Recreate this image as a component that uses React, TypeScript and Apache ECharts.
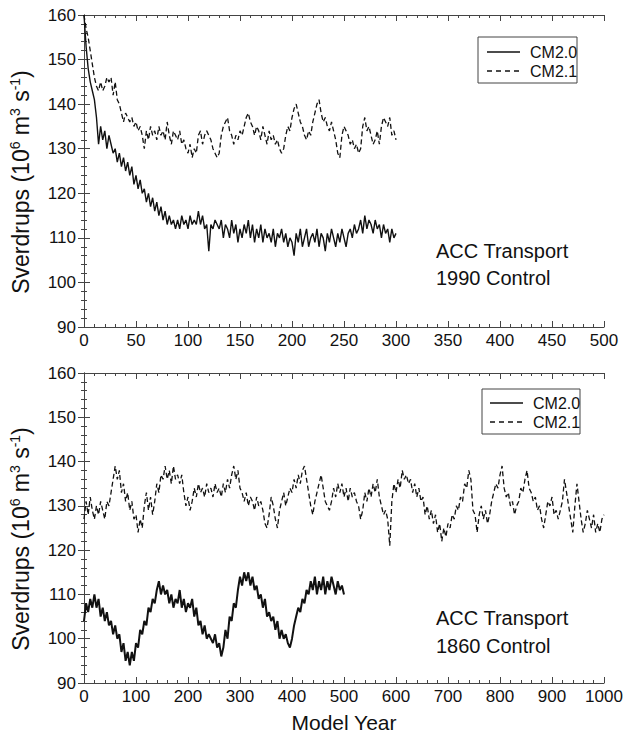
import { useEffect, useRef } from "react";
import * as echarts from "echarts";

const SERIES_NAMES = ["CM2.0", "CM2.1"];
const TOP_STEP = 2;
const BOTTOM_STEP = 4;

const TOP_CM20 = [
  160, 153, 148, 145, 143, 141, 137, 131, 135, 132,
  134, 130, 133, 131, 129, 130, 127, 129, 126, 128,
  125, 127, 124, 126, 122, 124, 121, 123, 120, 121,
  118, 120, 117, 119, 116, 118, 115, 117, 114, 116,
  113, 115, 113, 114, 112, 114, 112, 115, 113, 114,
  112, 115, 113, 114, 113, 116, 113, 115, 112, 113,
  107, 113, 112, 114, 113, 112, 114, 110, 113, 112,
  110, 114, 111, 113, 109, 112, 110, 113, 111, 114,
  110, 113, 109, 112, 110, 113, 109, 112, 110, 111,
  109, 112, 108, 111, 110, 112, 109, 111, 108, 110,
  109, 106, 111, 109, 112, 108, 110, 112, 108, 110,
  111, 109, 112, 108, 111, 110, 107, 111, 109, 112,
  110, 108, 111, 109, 112, 110, 108, 111, 112, 110,
  113, 111, 112, 114, 111, 115, 112, 114, 113, 111,
  114, 112, 113, 110, 113, 111, 112, 109, 112, 110,
  111,
];

const TOP_CM21 = [
  160, 157, 155, 152, 149, 146, 144, 143, 145, 143,
  144, 146, 145, 146, 142, 145, 141, 140, 138, 136,
  138, 137, 136, 137, 135, 136, 134, 135, 133, 130,
  134, 132, 135, 133, 134, 132, 135, 133, 134, 132,
  136, 133, 131, 134, 133, 132, 134, 131, 132, 130,
  129, 131, 128, 130, 129, 133, 134, 131, 133, 134,
  133, 132, 130, 129, 128, 129, 133, 135, 136, 137,
  134, 133, 131, 133, 132, 134, 133, 135, 137, 138,
  136, 135, 133, 135, 134, 132, 135, 133, 131, 134,
  132, 133, 131, 132, 130, 129, 130, 133, 135, 134,
  137, 139, 140, 138, 136, 135, 133, 132, 134, 133,
  136, 138, 140, 141, 138, 136, 137, 135, 134, 136,
  134, 132, 129, 128, 133, 135, 134, 133, 131, 132,
  130, 131, 129, 130, 135, 137, 134, 135, 133, 131,
  132, 134, 131, 135, 137, 136, 135, 137, 133, 134,
  132,
];

const BOT_CM20 = [
  104, 108, 106, 109, 107, 110, 107, 109, 105, 107,
  104, 106, 103, 104, 101, 103, 100, 101, 97, 99,
  95, 97, 94, 97, 95, 99, 98, 102, 101, 104,
  103, 107, 106, 109, 108, 111, 113, 110, 112, 110,
  111, 108, 110, 107, 109, 108, 111, 107, 109, 106,
  108, 107, 109, 105, 107, 103, 104, 101, 103, 100,
  101, 100, 99, 101, 98, 99, 96, 98, 102, 100,
  105, 104, 108, 107, 111, 114, 112, 115, 113, 115,
  112, 114, 111, 112, 109, 110, 107, 109, 105, 106,
  104, 105, 102, 104, 100, 102, 100, 101, 99, 98,
  100, 103, 105, 107, 106, 109, 108, 111, 110, 113,
  111, 114, 110, 113, 111, 114, 110, 113, 111, 114,
  112, 110, 113, 111, 112, 110,
];

const BOT_CM21 = [
  127, 131, 128, 132, 129, 127, 130, 128, 131, 129,
  127, 131, 130, 133, 136, 139, 136, 138, 133, 135,
  131, 133, 129, 131, 127, 128, 124, 127, 125, 130,
  133, 129, 132, 128, 131, 135, 133, 137, 136, 139,
  136, 138, 135, 139, 136, 137, 135, 137, 133, 130,
  132, 129, 131, 134, 132, 135, 133, 134, 132, 135,
  133, 134, 132, 135, 133, 134, 132, 135, 133, 136,
  134, 137, 139, 136, 138, 134, 133, 131, 133, 130,
  132, 131, 129, 132, 130, 131, 129, 126, 125, 128,
  132, 130, 127, 125, 129, 131, 133, 130, 132, 134,
  133, 136, 134, 137, 135, 138, 139, 136, 133, 130,
  128, 131, 133, 135, 137, 134, 131, 130, 129, 131,
  134, 132, 135, 133, 135, 132, 134, 131, 134, 132,
  133, 131, 130, 127, 129, 133, 131, 134, 132, 135,
  133, 136, 132, 130, 128, 129, 127, 121, 131, 135,
  133, 136, 134, 138, 136, 137, 135, 136, 133, 135,
  132, 134, 131, 132, 128, 130, 127, 129, 126, 128,
  124, 126, 122, 125, 123, 126, 125, 128, 127, 130,
  129, 132, 131, 135, 134, 138, 136, 129, 128, 124,
  128, 130, 127, 129, 126, 128, 131, 133, 135, 134,
  137, 139, 134, 132, 133, 130, 131, 128, 130, 131,
  134, 133, 136, 138, 134, 133, 131, 132, 129, 130,
  127, 125, 128, 131, 130, 132, 128, 129, 127, 129,
  131, 136, 133, 130, 127, 124, 130, 135, 131, 127,
  124, 126, 129, 127, 125, 128, 124, 126, 124, 127,
  128,
];

const Y_RANGE = [90, 160];
const Y_INTERVAL = 10;
const TOP_X_RANGE = [0, 500];
const TOP_X_INTERVAL = 50;
const BOT_X_RANGE = [0, 1000];
const BOT_X_INTERVAL = 100;
const PANEL_LABELS = [
  ["ACC Transport", "1990 Control"],
  ["ACC Transport", "1860 Control"],
];
const X_NAME = "Model Year";

const FONT = "'Liberation Sans', Arial, Helvetica, sans-serif";
const INK = "#111";
const FRAME = "#444";

const GRIDS = [
  { left: 84, top: 15, width: 520, height: 312 },
  { left: 84, top: 373, width: 520, height: 310 },
];

function toPairs(values: number[], step: number) {
  return values.map((v, i) => [i * step, v]);
}

function App() {
  const ref = useRef<HTMLDivElement>(null);

  useEffect(() => {
    if (!ref.current) return;
    const chart = echarts.init(ref.current, null, { renderer: "svg" });

    const tickCommon = {
      axisLine: { show: true, lineStyle: { color: FRAME, width: 1 } },
      axisTick: { show: true, inside: true, length: 6, lineStyle: { color: FRAME } },
      minorTick: { show: true, splitNumber: 5, length: 3, lineStyle: { color: FRAME } },
      splitLine: { show: false },
    };

    const xAxis = (grid: number, range: number[], interval: number, bottom: boolean, name?: string) => ({
      type: "value",
      gridIndex: grid,
      position: bottom ? "bottom" : "top",
      min: range[0],
      max: range[1],
      interval,
      ...tickCommon,
      axisLabel: {
        show: bottom,
        color: INK,
        fontSize: 17,
        fontFamily: FONT,
        margin: 5,
        formatter: (v: number) => String(v),
      },
      name: name,
      nameLocation: "middle",
      nameGap: 29,
      nameTextStyle: { fontSize: 21, fontFamily: FONT, color: INK },
    });

    const yName = "{a|Sverdrups (10}{s|6}{a| m}{s|3}{a| s}{s|-1}{a|)}";
    const yAxis = (grid: number, left: boolean) => ({
      type: "value",
      gridIndex: grid,
      position: left ? "left" : "right",
      min: Y_RANGE[0],
      max: Y_RANGE[1],
      interval: Y_INTERVAL,
      ...tickCommon,
      axisLabel: {
        show: left,
        color: INK,
        fontSize: 17,
        fontFamily: FONT,
        margin: 8,
        formatter: (v: number) => String(v),
      },
      name: left ? yName : "",
      nameLocation: "middle",
      nameGap: 50,
      nameTextStyle: {
        padding: [0, 22, 0, 0],
        rich: {
          a: { fontSize: 23, fontFamily: FONT, color: INK, lineHeight: 26 },
          s: { fontSize: 14, fontFamily: FONT, color: INK, verticalAlign: "top", lineHeight: 16 },
        },
      },
    });

    const lineSeries = (name: string, values: number[], step: number, axis: number, dashed: boolean, width: number) => ({
      name,
      type: "line",
      xAxisIndex: axis,
      yAxisIndex: axis,
      data: toPairs(values, step),
      symbol: "none",
      showSymbol: false,
      lineStyle: { color: INK, width, type: dashed ? [5, 3] : "solid" },
      itemStyle: { color: INK },
      z: dashed ? 2 : 3,
    });

    const legendBox = (x: number, y: number, w: number, h: number, rowsY: number[], lineX: number[], textX: number) => [
      {
        type: "rect",
        shape: { x, y, width: w, height: h },
        style: { fill: "#fff", stroke: FRAME, lineWidth: 1 },
        z: 10,
      },
      ...SERIES_NAMES.map((n, i) => ({
        type: "line",
        shape: { x1: lineX[0], y1: rowsY[i], x2: lineX[1], y2: rowsY[i] },
        style: { stroke: INK, lineWidth: 1.3, lineDash: i === 0 ? null : [5, 4] },
        z: 11,
      })),
      ...SERIES_NAMES.map((n, i) => ({
        type: "text",
        x: textX,
        y: rowsY[i],
        style: { text: n, fontSize: 16, fontFamily: FONT, fill: INK, verticalAlign: "middle", align: "left" },
        z: 11,
      })),
    ];

    const annotation = (x: number, ys: number[], lines: string[]) =>
      lines.map((t, i) => ({
        type: "text",
        x,
        y: ys[i],
        style: {
          text: t,
          fontSize: 20,
          fontFamily: FONT,
          fill: INK,
          verticalAlign: "middle",
          align: "left",
        },
      }));

    chart.setOption({
      animation: false,
      backgroundColor: "#fff",
      grid: GRIDS.map((g) => ({ ...g, containLabel: false })),
      xAxis: [
        xAxis(0, TOP_X_RANGE, TOP_X_INTERVAL, true),
        xAxis(0, TOP_X_RANGE, TOP_X_INTERVAL, false),
        xAxis(1, BOT_X_RANGE, BOT_X_INTERVAL, true, X_NAME),
        xAxis(1, BOT_X_RANGE, BOT_X_INTERVAL, false),
      ],
      yAxis: [yAxis(0, true), yAxis(0, false), yAxis(1, true), yAxis(1, false)],
      series: [
        lineSeries(SERIES_NAMES[1], TOP_CM21, TOP_STEP, 0, true, 1.3),
        lineSeries(SERIES_NAMES[0], TOP_CM20, TOP_STEP, 0, false, 1.4),
        lineSeries(SERIES_NAMES[1], BOT_CM21, BOTTOM_STEP, 2, true, 1.3),
        lineSeries(SERIES_NAMES[0], BOT_CM20, BOTTOM_STEP, 2, false, 2),
      ],
      graphic: [
        ...legendBox(478, 37, 99, 46, [52, 71], [487, 520], 530),
        ...legendBox(482, 389, 98, 45, [403, 422], [490, 523], 533),
        ...annotation(436, [251, 278], PANEL_LABELS[0]),
        ...annotation(436, [618, 646], PANEL_LABELS[1]),
      ],
    });

    return () => chart.dispose();
  }, []);

  return (
    <div
      ref={ref}
      style={{ position: "absolute", left: 0, top: 0, width: 632, height: 734, background: "#fff" }}
    />
  );
}

export default App;
